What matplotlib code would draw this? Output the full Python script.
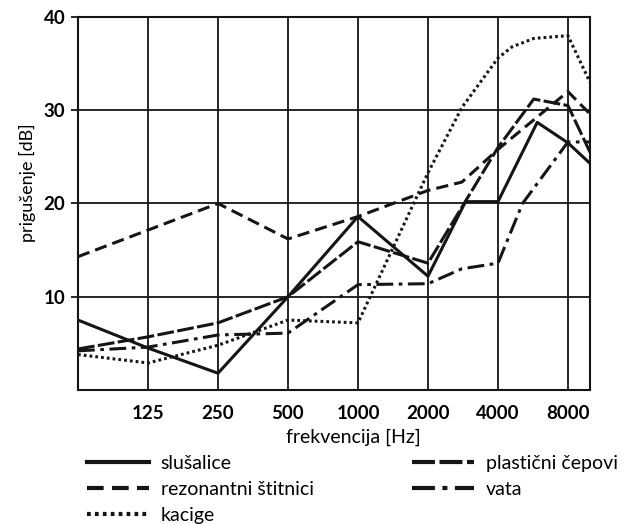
import matplotlib
matplotlib.use("Agg")
import matplotlib.pyplot as plt
from matplotlib.ticker import NullLocator

plt.rcParams['font.family'] = ['Lato', 'DejaVu Sans']

# octave band centre frequencies shown on the x axis
freq_ticks = [125, 250, 500, 1000, 2000, 4000, 8000]
freq_labels = ['125', '250', '500', '1000', '2000', '4000', '8000']
db_ticks = [10, 20, 30, 40]

# attenuation curves (frequency in Hz, attenuation in dB)
slusalice_f = [62.5, 125, 250, 500, 1000, 2000, 2900, 4000, 5900, 8000, 9950]
slusalice_db = [7.5, 4.5, 1.8, 10.0, 18.6, 12.2, 20.2, 20.2, 28.7, 26.5, 24.3]

rezonantni_f = [62.5, 250, 500, 1000, 2000, 2800, 4000, 8000, 9950]
rezonantni_db = [14.3, 20.0, 16.2, 18.6, 21.4, 22.3, 25.8, 32.0, 29.6]

kacige_f = [62.5, 125, 250, 500, 1000, 2000, 2800, 4000, 4600, 5700, 8000, 9950]
kacige_db = [3.8, 2.9, 4.8, 7.5, 7.2, 23.3, 30.3, 35.6, 36.8, 37.7, 38.0, 33.0]

plasticni_f = [62.5, 125, 250, 500, 1000, 2000, 4000, 5700, 8000, 9950]
plasticni_db = [4.4, 5.7, 7.2, 10.0, 15.9, 13.6, 26.0, 31.2, 30.5, 25.5]

vata_f = [62.5, 125, 250, 500, 1000, 2000, 2800, 4000, 5100, 8000, 9950]
vata_db = [4.2, 4.6, 5.9, 6.1, 11.3, 11.4, 13.0, 13.6, 20.0, 26.6, 26.6]

fig = plt.figure(figsize=(6.25, 5.25), dpi=100)
ax = fig.add_axes([78 / 625, 135 / 525, 512 / 625, 373 / 525])

ink = '#151515'
lw = 2.2
h1, = ax.plot(slusalice_f, slusalice_db, color=ink, lw=lw, ls='-', label='slušalice')
h2, = ax.plot(rezonantni_f, rezonantni_db, color=ink, lw=lw, ls=(0, (4, 2.0)),
              label='rezonantni štitnici')
h3, = ax.plot(kacige_f, kacige_db, color=ink, lw=lw, ls=(0, (0.9, 1.0)), label='kacige')
h4, = ax.plot(plasticni_f, plasticni_db, color=ink, lw=lw, ls=(0, (5.5, 1.1)),
              label='plastični čepovi')
h5, = ax.plot(vata_f, vata_db, color=ink, lw=lw, ls=(0, (5.5, 1.8, 1.2, 1.8)), label='vata')

ax.set_xscale('log', base=2)
ax.set_xlim(62.5, 9950)
ax.set_ylim(0, 40)
ax.set_xticks(freq_ticks)
ax.set_xticklabels(freq_labels)
ax.xaxis.set_minor_locator(NullLocator())
ax.set_yticks(db_ticks)
ax.tick_params(axis='x', length=0, pad=11, labelsize=13.5)
ax.tick_params(axis='y', length=5, width=1.3, pad=4, labelsize=13.5, color=ink)
for lab in ax.get_xticklabels() + ax.get_yticklabels():
    lab.set_fontweight('bold')

ax.grid(True, color=ink, lw=1.3)
for sp in ax.spines.values():
    sp.set_color(ink)
    sp.set_linewidth(1.5)

ax.set_xlabel('frekvencija [Hz]', fontsize=14)
ax.xaxis.set_label_coords(0.537, -0.104)
ax.set_ylabel('prigušenje [dB]', fontsize=13)
ax.yaxis.set_label_coords(-0.082, 0.555)

leg_kw = dict(frameon=False, fontsize=14, handlelength=3.2, handletextpad=0.6,
              labelspacing=0.45, borderpad=0, borderaxespad=0, loc='upper left')
leg1 = fig.legend(handles=[h1, h2, h3], bbox_to_anchor=(87 / 625, 1 - 455 / 525), **leg_kw)
leg2 = fig.legend(handles=[h4, h5], bbox_to_anchor=(412 / 625, 1 - 455 / 525), **leg_kw)
for leg in (leg1, leg2):
    for line in leg.get_lines():
        line.set_linewidth(3.0)

fig.savefig('out.png', dpi=100, facecolor='white')
